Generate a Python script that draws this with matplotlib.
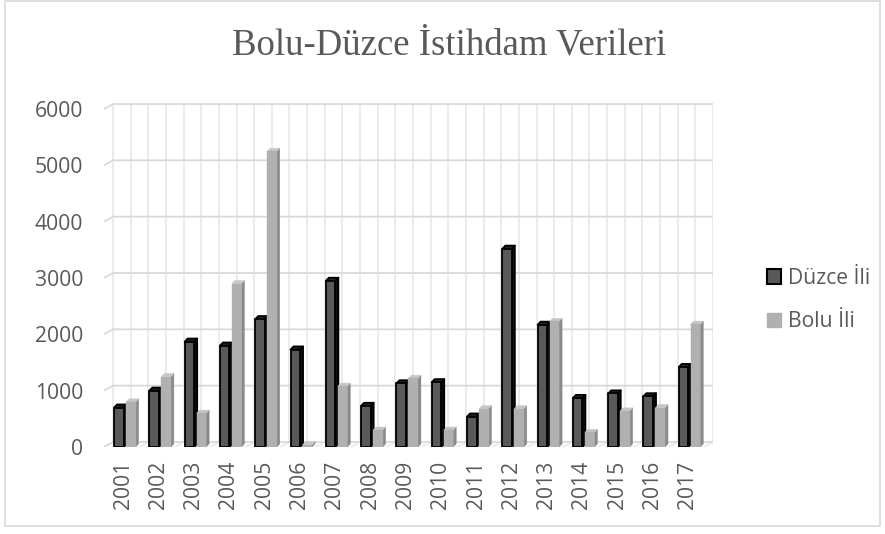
import matplotlib
matplotlib.use("Agg")
import matplotlib.pyplot as plt
from matplotlib.patches import Polygon, Rectangle, Patch
import numpy as np

# values
years = [str(y) for y in range(2001, 2018)]
duzce = [700, 1000, 1870, 1800, 2270, 1730, 2950, 730, 1130, 1150,
         540, 3520, 2170, 870, 950, 900, 1420]
bolu = [800, 1250, 600, 2900, 5250, 40, 1080, 300, 1220, 300,
        680, 680, 2230, 260, 640, 700, 2180]
yticks = [0, 1000, 2000, 3000, 4000, 5000, 6000]
series_names = ['Düzce İli', 'Bolu İli']
title = 'Bolu-Düzce İstihdam Verileri'

plt.rcParams['font.family'] = ['Open Sans', 'DejaVu Sans']
text_color = '#595959'
fs = 15.2

fig = plt.figure(figsize=(8.85, 5.34), dpi=100)
ax = fig.add_axes([104 / 885, 1 - 447 / 534, 609 / 885, 344 / 534])
x = np.arange(len(years))
x0, x1 = -0.54, 16.715
ax.set_xlim(x0, x1)
ax.set_ylim(0, 6107)

# fake 3d back wall + floor
wall_dx, wall_dy = 0.255, 89
for gx in np.arange(x0 + wall_dx, x1 + 0.01, 0.5):
    ax.plot([gx, gx], [wall_dy, yticks[-1] + wall_dy], color='#e8e8e8', lw=1.2, zorder=1)
    ax.plot([gx - wall_dx, gx], [0, wall_dy], color='#e8e8e8', lw=1.2, zorder=1)
for v in yticks:
    ax.plot([x0, x0 + wall_dx, x1], [v, v + wall_dy, v + wall_dy],
            color='#d9d9d9', lw=1.3, zorder=2, solid_capstyle='butt')

bar_w = 0.27
bar_dx, bar_dy = 0.085, 55


def draw_bar(left, h, front, side, top, edge, lw):
    r = left + bar_w
    faces = [
        ([(r, 0), (r + bar_dx, bar_dy), (r + bar_dx, h + bar_dy), (r, h)], side),
        ([(left, h), (left + bar_dx, h + bar_dy), (r + bar_dx, h + bar_dy), (r, h)], top),
        ([(left, 0), (r, 0), (r, h), (left, h)], front),
    ]
    for pts, col in faces:
        ax.add_patch(Polygon(pts, closed=True, facecolor=col,
                             edgecolor=edge if edge else col,
                             lw=lw if edge else 0.3, zorder=5, joinstyle='round'))


for i in range(len(years)):
    draw_bar(x[i] - 0.255, duzce[i], '#595959', '#111111', '#262626', 'black', 1.3)
    draw_bar(x[i] + 0.085, bolu[i], '#b0b0b0', '#8a8a8a', '#c6c6c6', None, 0)

for s in ax.spines.values():
    s.set_visible(False)
ax.set_yticks(yticks)
ax.set_yticklabels([str(v) for v in yticks])
ax.set_xticks(x)
ax.set_xticklabels(years, rotation=90)
ax.tick_params(axis='y', length=0, pad=15, labelsize=fs, labelcolor=text_color)
ax.tick_params(axis='x', length=0, pad=10, labelsize=fs, labelcolor=text_color)

fig.text(0.508, 1 - 45 / 534, title, family='Liberation Serif', fontsize=26.5,
         color=text_color, ha='center', va='center')

handles = [Patch(facecolor='#595959', edgecolor='black', lw=1.5),
           Patch(facecolor='#b0b0b0', edgecolor='#b0b0b0')]
fig.legend(handles, series_names, loc='center left',
           bbox_to_anchor=(767 / 885, 1 - 300 / 534), frameon=False,
           borderaxespad=0, borderpad=0,
           fontsize=fs, labelcolor=text_color, handlelength=0.65,
           handleheight=0.65, handletextpad=0.35, labelspacing=1.05)

fig.add_artist(Rectangle((5 / 885, 8 / 534), 875 / 885, 525 / 534,
                         transform=fig.transFigure, fill=False,
                         edgecolor='#d9d9d9', lw=1.2))

fig.savefig('out.png', dpi=100)
